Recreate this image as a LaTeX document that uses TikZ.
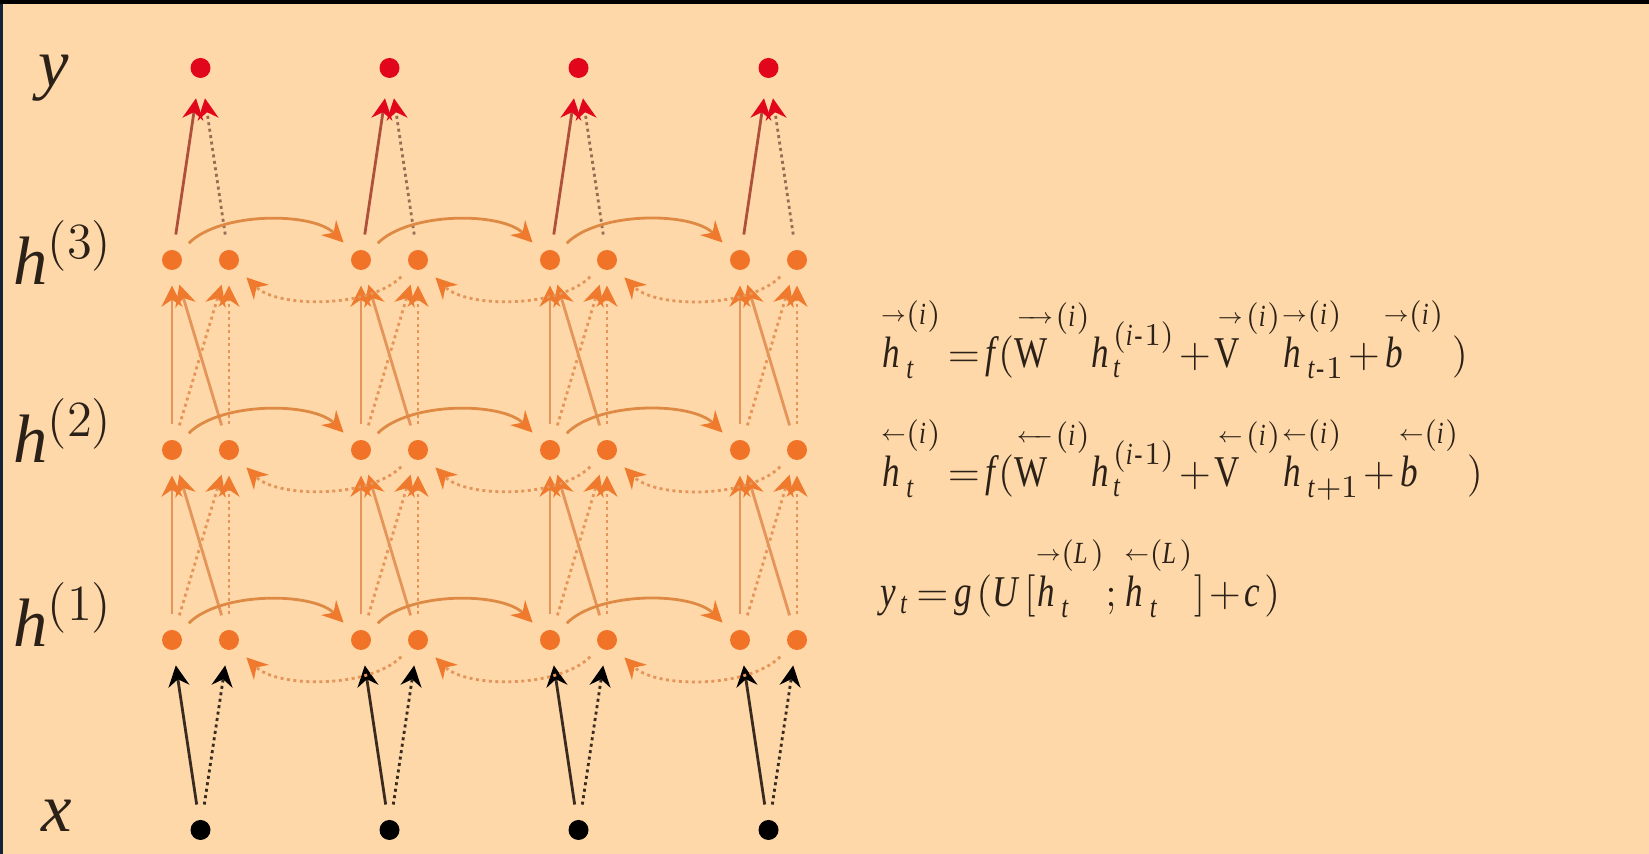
\documentclass[tikz,border=0pt]{standalone}
\usepackage{amsmath}
\usepackage{fontspec}
\setmainfont{Liberation Serif}
\newfontfamily\tnrfamily{Liberation Serif}[NFSSFamily=tnr, FakeStretch=0.8]
\usetikzlibrary{arrows.meta}
\definecolor{peach}{HTML}{FED8A8}
\definecolor{edgeblue}{HTML}{15233A}
\definecolor{inkdark}{HTML}{2B2118}
\definecolor{unitorange}{HTML}{F07328}
\definecolor{tiporange}{HTML}{EF7A2D}
\definecolor{linkorange}{HTML}{E5955A}
\definecolor{arcorange}{HTML}{DE8A45}
\definecolor{outred}{HTML}{E1061B}
\definecolor{outlinkred}{HTML}{AE503C}
\definecolor{outdots}{HTML}{9C6B55}
\definecolor{inbrown}{HTML}{3A2B20}

\DeclareSymbolFont{tnrit}{TU}{tnr}{m}{it}
\DeclareSymbolFont{tnrup}{TU}{tnr}{m}{n}
\DeclareMathSymbol{b}{\mathalpha}{tnrit}{`b}
\DeclareMathSymbol{c}{\mathalpha}{tnrit}{`c}
\DeclareMathSymbol{f}{\mathalpha}{tnrit}{`f}
\DeclareMathSymbol{g}{\mathalpha}{tnrit}{`g}
\DeclareMathSymbol{h}{\mathalpha}{tnrit}{`h}
\DeclareMathSymbol{i}{\mathalpha}{tnrit}{`i}
\DeclareMathSymbol{t}{\mathalpha}{tnrit}{`t}
\DeclareMathSymbol{y}{\mathalpha}{tnrit}{`y}
\DeclareMathSymbol{L}{\mathalpha}{tnrit}{`L}
\DeclareMathSymbol{U}{\mathalpha}{tnrit}{`U}
\DeclareMathSymbol{V}{\mathalpha}{tnrup}{`V}
\DeclareMathSymbol{W}{\mathalpha}{tnrup}{`W}
\DeclareMathSymbol{1}{\mathalpha}{tnrup}{`1}
\DeclareMathSymbol{2}{\mathalpha}{tnrup}{`2}
\DeclareMathSymbol{3}{\mathalpha}{tnrup}{`3}
\DeclareMathSymbol{+}{\mathbin}{tnrup}{`+}
\DeclareMathSymbol{-}{\mathbin}{tnrup}{`-}
\DeclareMathSymbol{=}{\mathrel}{tnrup}{`=}
\DeclareMathSymbol{(}{\mathopen}{tnrup}{`(}
\DeclareMathSymbol{)}{\mathclose}{tnrup}{`)}
\DeclareMathSymbol{[}{\mathopen}{tnrup}{`[}
\DeclareMathSymbol{]}{\mathclose}{tnrup}{`]}
\DeclareMathSymbol{;}{\mathpunct}{tnrup}{`;}

\newcommand{\overarr}[2]{\vbox{\offinterlineskip\halign{\hfil##\hfil\cr$\scriptscriptstyle#1$\cr\noalign{\kern4.5pt}$#2$\cr}}}
\newcommand{\barpart}{\mathrel{\smash{\mathchar"2200}}}
\newcommand{\fw}[1]{\overarr{\rightarrow}{#1}}
\newcommand{\bw}[1]{\overarr{\leftarrow}{#1}}
\newcommand{\fwlong}[1]{\overarr{\barpart\mkern-6mu\rightarrow}{#1}}
\newcommand{\bwlong}[1]{\overarr{\leftarrow\mkern-6mu\barpart}{#1}}
\newcommand{\tight}{\medmuskip=1.5mu \thickmuskip=2.5mu}

\tikzstyle{arrow} = [-{Stealth[length=2.1mm, width=2.1mm, inset=0.7mm]}, line width=0.28mm]

\begin{document}
\begin{tikzpicture}[x=0.1mm, y=0.1mm,
    hunit/.style={circle, fill=unitorange, minimum size=2mm, inner sep=0pt},
    yunit/.style={hunit, fill=outred},
    xunit/.style={hunit, fill=black},
    dots/.style={dash pattern=on 0.3mm off 0.35mm},
    layerlink/.style={arrow, draw=linkorange, shorten <=1.5mm, shorten >=1.5mm,
      -{Stealth[length=2.1mm, width=2.1mm, inset=0.7mm, color=tiporange]}},
    inlink/.style={arrow, draw=inbrown, shorten <=1.5mm, shorten >=1.5mm,
      -{Stealth[length=2.1mm, width=2.1mm, inset=0.7mm, color=black]}},
    outlink/.style={arrow, draw=outlinkred, shorten <=1.5mm, shorten >=2mm,
      -{Stealth[length=2.1mm, width=2.1mm, inset=0.7mm, color=outred]}},
    reclink/.style={arrow, draw=arcorange, shorten <=1.3mm, shorten >=1.4mm,
      -{Stealth[length=2.1mm, width=2.1mm, inset=0.7mm, color=tiporange]}},
    lbl/.style={font=\fontsize{19.5}{22}\selectfont, text=inkdark, inner sep=0pt},
    eqn/.style={anchor=base west, font=\fontsize{12.5}{15}\selectfont, text=inkdark, inner sep=0pt}
  ]
    \useasboundingbox (0,0) rectangle (1649,854);
    \fill[peach] (0,0) rectangle (1649,854);
    \fill[black] (0,850) rectangle (1649,854);
    \fill[edgeblue] (0,0) rectangle (3,850);

    \node[lbl, anchor=base] (ylbl) at (54,767) {\textit{y}};
    \node[lbl, anchor=base west] (h3lbl) at (13,569) {\textit{h}$^{(3)}$};
    \node[lbl, anchor=base west] (h2lbl) at (13,391) {\textit{h}$^{(2)}$};
    \node[lbl, anchor=base west] (h1lbl) at (13,207) {\textit{h}$^{(1)}$};
    \node[lbl, anchor=base] (xlbl) at (57,22) {\textit{x}};

    \foreach \t/\cx in {1/172, 2/361, 3/550, 4/740} {
      \node[xunit] (x\t) at (\cx+28.5,24) {};
      \node[yunit] (y\t) at (\cx+28.5,786) {};
      \foreach \l/\ry in {1/214, 2/404, 3/594} {
        \node[hunit] (f\l-\t) at (\cx,\ry) {};
        \node[hunit] (b\l-\t) at (\cx+57,\ry) {};
      }
    }

    \foreach \t in {1,...,4} {
      \draw[inlink] (x\t) -- (f1-\t);
      \draw[inlink, dots] (x\t) -- (b1-\t);
      \foreach \l/\m in {1/2, 2/3} {
        \draw[layerlink] (f\l-\t) -- (f\m-\t);
        \draw[layerlink] (b\l-\t) -- (f\m-\t);
        \draw[layerlink, dots] (f\l-\t) -- (b\m-\t);
        \draw[layerlink, dots] (b\l-\t) -- (b\m-\t);
      }
      \draw[outlink] (f3-\t) -- (y\t);
      \draw[outlink, draw=outdots, dots] (b3-\t) -- (y\t);
    }

    \foreach \l in {1,2,3} {
      \foreach \t/\n in {1/2, 2/3, 3/4} {
        \draw[reclink] (f\l-\t) to[bend left=45, looseness=0.85] (f\l-\n);
        \draw[reclink, draw=linkorange, dots] (b\l-\n) to[bend left=45, looseness=0.85] (b\l-\t);
      }
    }

    \node[eqn] (fwdeq) at (880,486)
      {$\tight{\fw{h}}_t^{(i)} = f({\fwlong{W}}^{(i)} h_t^{(i-1)} + {\fw{V}}^{(i)}{\fw{h}}_{t-1}^{(i)} + {\fw{b}}^{(i)}\,)$};
    \node[eqn] (bwdeq) at (880,367)
      {$\tight{\bw{h}}_t^{(i)} = f({\bwlong{W}}^{(i)} h_t^{(i-1)} + {\bw{V}}^{(i)}{\bw{h}}_{t+1}^{(i)} + {\bw{b}}^{(i)}\,)$};
    \node[eqn] (outeq) at (880,247)
      {$\tight y_t = g(U[{\fw{h}}_t^{(L)};{\bw{h}}_t^{(L)}]+c)$};
  \end{tikzpicture}
\end{document}
